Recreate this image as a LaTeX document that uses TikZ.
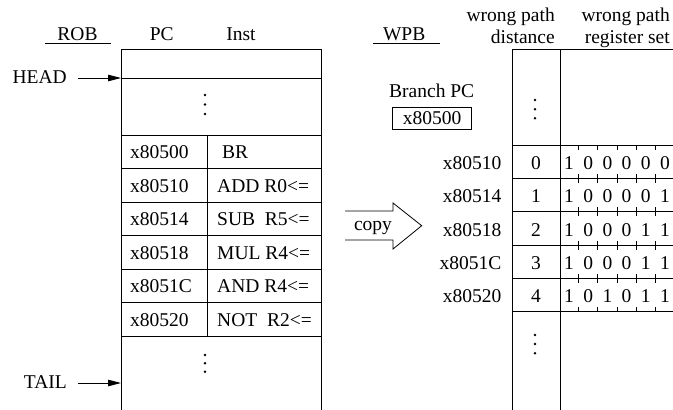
\documentclass[tikz,border=0pt]{standalone}
\usepackage{fontspec}
\setmainfont{Liberation Serif}
\usetikzlibrary{arrows.meta}
\begin{document}
\begin{tikzpicture}[x=1pt,y=-1pt,
  every node/.style={font=\fontsize{19.5}{22.6}\selectfont, inner sep=0pt},
  tline/.style={line width=0.9pt},
  txt/.style={anchor=base},
  ptr/.style={line width=0.9pt,-{Triangle[length=13pt,width=6.5pt]}},
  tick/.style={line width=0.7pt},
  pcbox/.style={draw, line width=0.8pt, minimum width=79pt, minimum height=22pt}]
\useasboundingbox (0,0) rectangle (673,410);

% titles
\node[txt] (rob) at (77.5,40) {ROB};
\draw[tline] (45,43.5) -- (111,43.5);
\node[txt] (pc) at (161.7,40) {PC};
\node[txt] (inst) at (241,40) {Inst};
\node[txt] (wpb) at (404.2,40) {WPB};
\draw[tline] (373,43.5) -- (440,43.5);
\node[anchor=north east, align=right] (wpd) at (555,7.4) {wrong path\\distance};
\node[anchor=north east, align=right] (wpr) at (670,7.4) {wrong path\\register set};

% ROB table
\draw[tline] (121,410) -- (121,49) -- (321,49) -- (321,410);
\foreach \y in {78,135,168.5,202,235.5,269,302.5,336} \draw[tline] (121,\y) -- (321,\y);
\draw[tline] (207,135) -- (207,336);
\foreach \y in {95,104.5,114} \fill (205,\y) circle (1.4);
\foreach \y in {355,363.3,371.7} \fill (205,\y) circle (1.4);

% HEAD / TAIL
\node[anchor=base east] (head) at (67,83.3) {HEAD};
\coordinate (headtip) at (121,78);
\draw[ptr, shorten <=11pt] (head.east |- headtip) -- (headtip);
\node[anchor=base east] (tail) at (67,388.3) {TAIL};
\coordinate (tailtip) at (121,383);
\draw[ptr, shorten <=11pt] (tail.east |- tailtip) -- (tailtip);

% ROB rows
\foreach \pcv/\ins/\dx [count=\i from 0] in {x80500/BR/5, x80510/ADD R0<=/0, x80514/SUB\ \ R5<=/0, x80518/MUL R4<=/0, x8051C/AND R4<=/0, x80520/NOT\ \ R2<=/0} {
  \pgfmathsetmacro{\yb}{151.75+33.5*\i+7}
  \node[anchor=base west] (rpc\i) at (130,\yb) {\pcv};
  \node[anchor=base west] (rin\i) at (217+\dx,\yb) {\ins};
}

% copy arrow
\draw[line width=0.8pt] (345,211) -- (393,211) -- (393,203) -- (421.7,225.7) -- (393,249) -- (393,240) -- (345,240);
\node[txt] (copy) at (373,230.5) {copy};

% Branch PC
\node[txt] (bpc) at (431.7,97.7) {Branch PC};
\node[pcbox] (bpcbox) at (432.2,118) {x80500};

% WPB table
\draw[tline] (512,410) -- (512,49) -- (673,49);
\draw[tline] (560,49) -- (560,410);
\foreach \y in {145,178.33,211.67,245,278.33,311.67} \draw[tline] (512,\y) -- (673,\y);
\foreach \y in {100,109.3,118.3} \fill (535,\y) circle (1.4);
\foreach \y in {335,344,353.3} \fill (535,\y) circle (1.4);

\foreach \pcv/\bits [count=\i from 0] in {x80510/{1,0,0,0,0,0}, x80514/{1,0,0,0,0,1}, x80518/{1,0,0,0,1,1}, x8051C/{1,0,0,0,1,1}, x80520/{1,0,1,0,1,1}} {
  \pgfmathsetmacro{\yt}{145+33.333*\i}
  \pgfmathsetmacro{\ybot}{\yt+33.333}
  \pgfmathsetmacro{\yb}{\yt+16.667+7.7}
  \node[anchor=base east] (wpc\i) at (501.5,\yb) {\pcv};
  \node[txt] (wd\i) at (536,\yb) {\i};
  \foreach \b [count=\j from 0] in \bits {
    \node[txt] (b\i\j) at (569+19.2*\j,\yb) {\b};
  }
  \foreach \k in {0,...,4} {
    \draw[tick] (578.6+19.2*\k,\yt) -- ++(0,4.5);
    \draw[tick] (578.6+19.2*\k,\ybot) -- ++(0,-4.5);
  }
}
\end{tikzpicture}
\end{document}
